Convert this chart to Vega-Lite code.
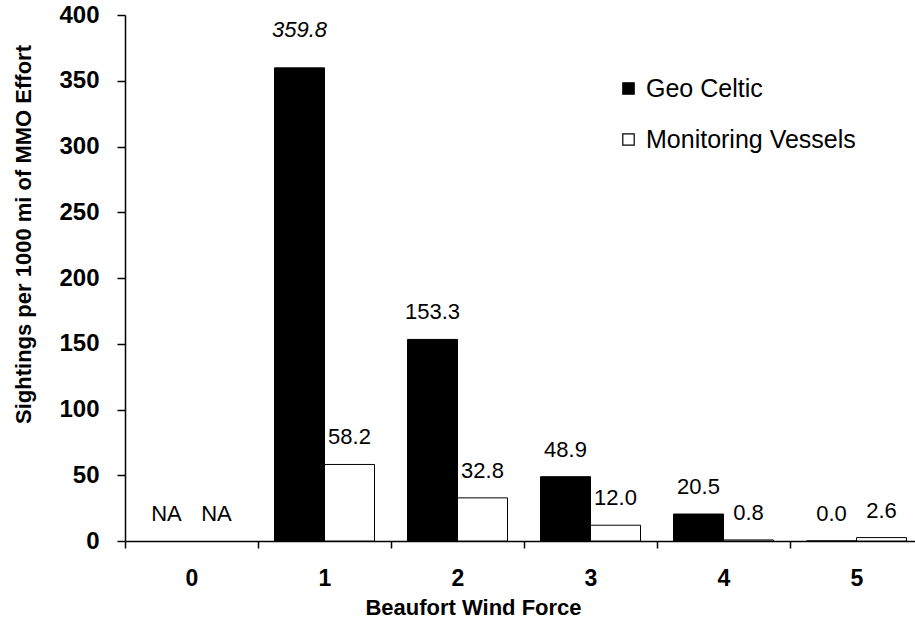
{
  "$schema": "https://vega.github.io/schema/vega-lite/v6.json",
  "width": 790,
  "height": 526,
  "autosize": {"type": "none"},
  "padding": {"left": 125, "top": 15, "right": 0, "bottom": 84},
  "background": "white",
  "config": {"view": {"stroke": null}, "font": "Liberation Sans"},
  "data": {
    "values": [
      {"force": "0", "series": "Geo Celtic", "value": null, "label": "NA"},
      {"force": "0", "series": "Monitoring Vessels", "value": null, "label": "NA"},
      {"force": "1", "series": "Geo Celtic", "value": 359.8, "label": "359.8"},
      {"force": "1", "series": "Monitoring Vessels", "value": 58.2, "label": "58.2"},
      {"force": "2", "series": "Geo Celtic", "value": 153.3, "label": "153.3"},
      {"force": "2", "series": "Monitoring Vessels", "value": 32.8, "label": "32.8"},
      {"force": "3", "series": "Geo Celtic", "value": 48.9, "label": "48.9"},
      {"force": "3", "series": "Monitoring Vessels", "value": 12.0, "label": "12.0"},
      {"force": "4", "series": "Geo Celtic", "value": 20.5, "label": "20.5"},
      {"force": "4", "series": "Monitoring Vessels", "value": 0.8, "label": "0.8"},
      {"force": "5", "series": "Geo Celtic", "value": 0.0, "label": "0.0"},
      {"force": "5", "series": "Monitoring Vessels", "value": 2.6, "label": "2.6"}
    ]
  },
  "encoding": {
    "x": {
      "field": "force",
      "type": "nominal",
      "sort": ["0", "1", "2", "3", "4", "5"],
      "scale": {"range": [0, 798], "paddingInner": 0, "paddingOuter": 0},
      "axis": {
        "title": "Beaufort Wind Force",
        "labelAngle": 0,
        "tickBand": "extent",
        "tickSize": 7,
        "tickWidth": 1.5,
        "tickColor": "black",
        "domainColor": "black",
        "domainWidth": 1.5,
        "labelFont": "Liberation Sans",
        "labelFontWeight": "bold",
        "labelFontSize": 23,
        "labelColor": "black",
        "labelPadding": 19,
        "titleFont": "Liberation Sans",
        "titleFontSize": 22,
        "titleFontWeight": "bold",
        "titleColor": "black",
        "titleX": 348,
        "titleY": 73,
        "titleAlign": "center",
        "titleBaseline": "alphabetic"
      }
    },
    "xOffset": {
      "field": "series",
      "type": "nominal",
      "scale": {"domain": ["Geo Celtic", "Monitoring Vessels"], "paddingInner": 0, "paddingOuter": 0.33}
    }
  },
  "layer": [
    {
      "mark": {"type": "bar", "stroke": "black", "strokeWidth": 1},
      "encoding": {
        "y": {
          "field": "value",
          "type": "quantitative",
          "title": "Sightings per 1000 mi of MMO Effort",
          "scale": {"domain": [0, 400], "nice": false},
          "axis": {
            "values": [0, 50, 100, 150, 200, 250, 300, 350, 400],
            "grid": false,
            "tickSize": 8,
            "tickWidth": 1.5,
            "tickColor": "black",
            "domainColor": "black",
            "domainWidth": 1.5,
            "labelFont": "Liberation Sans",
            "labelFontWeight": "bold",
            "labelFontSize": 24,
            "labelColor": "black",
            "labelPadding": 18,
            "titleFont": "Liberation Sans",
            "titleFontSize": 22,
            "titleFontWeight": "bold",
            "titleColor": "black",
            "titleX": -102,
            "titleY": 219,
            "titleAngle": -90,
            "titleAlign": "center",
            "titleBaseline": "middle"
          }
        },
        "fill": {
          "field": "series",
          "type": "nominal",
          "scale": {"domain": ["Geo Celtic", "Monitoring Vessels"], "range": ["#000000", "#ffffff"]},
          "legend": {
            "title": null,
            "orient": "none",
            "legendX": 491,
            "legendY": 61,
            "symbolType": "square",
            "symbolSize": 130,
            "symbolStrokeColor": "black",
            "symbolStrokeWidth": 1.2,
            "labelFont": "Liberation Sans",
            "labelFontSize": 25,
            "labelColor": "black",
            "labelOffset": 5,
            "labelLimit": 0,
            "rowPadding": 25
          }
        }
      }
    },
    {
      "transform": [
        {"calculate": "datum.value === null ? 0 : datum.value", "as": "ly"},
        {"filter": "!(datum.value > 300)"}
      ],
      "mark": {"type": "text", "font": "Liberation Sans", "fontSize": 22, "baseline": "middle", "dy": -27, "color": "black"},
      "encoding": {
        "y": {"field": "ly", "type": "quantitative", "title": "Sightings per 1000 mi of MMO Effort"},
        "text": {"field": "label"}
      }
    },
    {
      "transform": [
        {"filter": "datum.value > 300"}
      ],
      "mark": {"type": "text", "font": "Liberation Sans", "fontSize": 22, "fontStyle": "italic", "baseline": "middle", "dy": -38, "color": "black"},
      "encoding": {
        "y": {"field": "value", "type": "quantitative", "title": "Sightings per 1000 mi of MMO Effort"},
        "text": {"field": "label"}
      }
    }
  ]
}
